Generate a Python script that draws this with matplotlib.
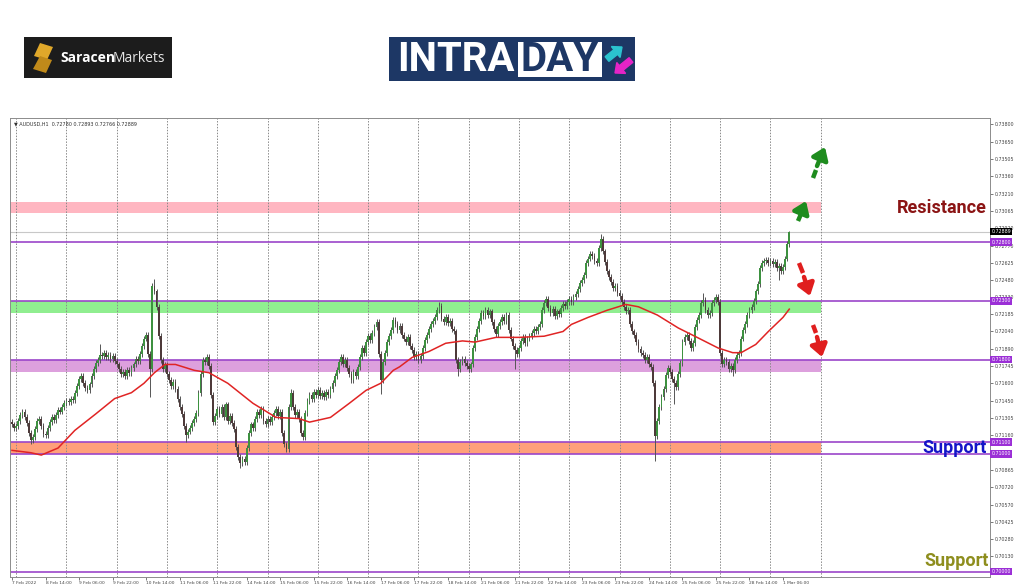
import numpy as np
import pandas as pd
import matplotlib
matplotlib.use("Agg")
import matplotlib.pyplot as plt
import matplotlib.transforms as mtransforms
from matplotlib.patches import Rectangle, Polygon, FancyArrow

# AUDUSD H1, 7 Feb 2022 22:00 -> 1 Mar 2022 09:00 (weekends skipped)
symbol = "AUDUSD,H1"
header_ohlc = [0.72780, 0.72893, 0.72766, 0.72889]
times = pd.date_range("2022-02-07 22:00", "2022-03-01 09:00", freq="h")
times = times[times.dayofweek < 5]

first_open = 0.7127
closes = [
    0.7125, 0.7122,
    # 8 Feb
    0.7124, 0.7128, 0.7133, 0.7136, 0.7131, 0.7126, 0.7118, 0.7112, 0.7114, 0.7121, 0.7128, 0.7130,
    0.7124, 0.7117, 0.7116, 0.7122, 0.7127, 0.7131, 0.7129, 0.7133, 0.7137, 0.7136, 0.7140, 0.7143,
    # 9 Feb
    0.7145, 0.7144, 0.7147, 0.7146, 0.7152, 0.7158, 0.7164, 0.7166, 0.7160, 0.7156, 0.7154, 0.7159,
    0.7166, 0.7172, 0.7177, 0.7180, 0.7184, 0.7183, 0.7186, 0.7182, 0.7184, 0.7181, 0.7183, 0.7179,
    # 10 Feb
    0.7176, 0.7172, 0.7168, 0.7170, 0.7166, 0.7171, 0.7169, 0.7173, 0.7176, 0.7181, 0.7179, 0.7185,
    0.7192, 0.7198, 0.7201, 0.7185, 0.7172, 0.7243, 0.7238, 0.7225, 0.7200, 0.7180, 0.7172, 0.7176,
    # 11 Feb
    0.7168, 0.7163, 0.7158, 0.7161, 0.7155, 0.7147, 0.7140, 0.7134, 0.7124, 0.7116, 0.7119, 0.7122,
    0.7126, 0.7130, 0.7135, 0.7152, 0.7168, 0.7180, 0.7178, 0.7182, 0.7175, 0.7150, 0.7127, 0.7132,
    # 14 Feb
    0.7138, 0.7134, 0.7140, 0.7131, 0.7142, 0.7128, 0.7132, 0.7126, 0.7121, 0.7106, 0.7097, 0.7092,
    0.7096, 0.7093, 0.7105, 0.7118, 0.7125, 0.7122, 0.7130, 0.7136, 0.7133, 0.7138, 0.7128, 0.7125,
    # 15 Feb
    0.7130, 0.7127, 0.7131, 0.7135, 0.7138, 0.7132, 0.7136, 0.7118, 0.7108, 0.7104, 0.7140, 0.7152,
    0.7140, 0.7133, 0.7136, 0.7130, 0.7118, 0.7114, 0.7135, 0.7145, 0.7150, 0.7147, 0.7153, 0.7150,
    # 16 Feb
    0.7154, 0.7149, 0.7152, 0.7148, 0.7153, 0.7150, 0.7155, 0.7160, 0.7166, 0.7171, 0.7178, 0.7182,
    0.7176, 0.7180, 0.7173, 0.7168, 0.7163, 0.7170, 0.7166, 0.7174, 0.7182, 0.7190, 0.7186, 0.7195,
    # 17 Feb
    0.7200, 0.7197, 0.7203, 0.7208, 0.7212, 0.7185, 0.7163, 0.7178, 0.7186, 0.7195, 0.7200, 0.7205,
    0.7214, 0.7210, 0.7205, 0.7209, 0.7201, 0.7198, 0.7195, 0.7199, 0.7192, 0.7188, 0.7182, 0.7185,
    # 18 Feb
    0.7180, 0.7183, 0.7190, 0.7197, 0.7201, 0.7206, 0.7210, 0.7213, 0.7216, 0.7222, 0.7226, 0.7215,
    0.7212, 0.7216, 0.7211, 0.7213, 0.7206, 0.7204, 0.7180, 0.7172, 0.7178, 0.7181, 0.7177, 0.7175,
    # 21 Feb
    0.7172, 0.7176, 0.7190, 0.7199, 0.7206, 0.7213, 0.7220, 0.7217, 0.7222, 0.7218, 0.7221, 0.7212,
    0.7206, 0.7202, 0.7209, 0.7212, 0.7216, 0.7213, 0.7218, 0.7205, 0.7198, 0.7192, 0.7188, 0.7185,
    # 22 Feb
    0.7190, 0.7196, 0.7199, 0.7194, 0.7198, 0.7200, 0.7203, 0.7206, 0.7204, 0.7208, 0.7210, 0.7222,
    0.7228, 0.7232, 0.7224, 0.7220, 0.7223, 0.7217, 0.7221, 0.7219, 0.7224, 0.7227, 0.7226, 0.7229,
    # 23 Feb
    0.7232, 0.7229, 0.7233, 0.7236, 0.7240, 0.7245, 0.7248, 0.7252, 0.7262, 0.7266, 0.7270, 0.7268,
    0.7264, 0.7262, 0.7275, 0.7283, 0.7272, 0.7263, 0.7255, 0.7250, 0.7246, 0.7241, 0.7243, 0.7237,
    # 24 Feb
    0.7234, 0.7229, 0.7225, 0.7221, 0.7222, 0.7210, 0.7204, 0.7201, 0.7195, 0.7189, 0.7186, 0.7184,
    0.7180, 0.7182, 0.7176, 0.7174, 0.7160, 0.7115, 0.7128, 0.7140, 0.7148, 0.7155, 0.7167, 0.7173,
    # 25 Feb
    0.7170, 0.7164, 0.7160, 0.7157, 0.7168, 0.7177, 0.7195, 0.7199, 0.7201, 0.7196, 0.7190, 0.7194,
    0.7208, 0.7214, 0.7218, 0.7228, 0.7231, 0.7222, 0.7218, 0.7220, 0.7228, 0.7231, 0.7233, 0.7229,
    # 28 Feb
    0.7186, 0.7176, 0.7180, 0.7178, 0.7172, 0.7175, 0.7171, 0.7180, 0.7184, 0.7186, 0.7198, 0.7205,
    0.7210, 0.7218, 0.7222, 0.7225, 0.7230, 0.7238, 0.7244, 0.7258, 0.7262, 0.7264, 0.7265, 0.7262,
    # 1 Mar
    0.7264, 0.7261, 0.7263, 0.7258, 0.7260, 0.7255, 0.7259, 0.7266, 0.7278, 0.72889,
]
# long wicks that stand out
spike_high = {42: 0.7193, 68: 0.7249, 133: 0.7155, 204: 0.7229, 281: 0.7287,
              330: 0.7237, 371: 0.72893}
spike_low = {9: 0.7108, 66: 0.7148, 83: 0.7110, 109: 0.7088, 176: 0.7151,
             213: 0.7166, 240: 0.7172, 307: 0.7094, 316: 0.7142, 344: 0.7166,
             366: 0.7248}

# moving average (red)
ma_bar = [0, 9, 14, 22, 30, 40, 49, 57, 63, 68, 73, 78, 87, 94, 103, 115, 126, 137,
          142, 152, 161, 169, 176, 182, 185, 191, 199, 207, 215, 221, 231, 242, 254,
          263, 267, 275, 281, 284, 293, 299, 308, 318, 327, 337, 344, 348, 355, 361,
          368, 371]
ma_val = [0.7103, 0.7101, 0.7099, 0.7105, 0.7120, 0.7134, 0.7147, 0.7152, 0.7160,
          0.7169, 0.7176, 0.7176, 0.7171, 0.7169, 0.7160, 0.7143, 0.7131, 0.7130,
          0.7127, 0.7131, 0.7143, 0.7154, 0.7160, 0.7171, 0.7174, 0.7182, 0.7187,
          0.7194, 0.7196, 0.7195, 0.7199, 0.7199, 0.7200, 0.7204, 0.7210, 0.7216,
          0.7220, 0.7222, 0.7227, 0.7225, 0.7218, 0.7207, 0.7199, 0.7190, 0.7186,
          0.7186, 0.7193, 0.7204, 0.7216, 0.7223]

levels = [0.72800, 0.72300, 0.71800, 0.71100, 0.71000, 0.70000]
zone_low = [0.7305, 0.7220, 0.7170, 0.7100]
zone_high = [0.7314, 0.7230, 0.7180, 0.7110]
bid = 0.72889
# scale labels (the one under the 0.71000 label is hidden in the original)
price_ticks = [0.73800, 0.73650, 0.73505, 0.73360, 0.73210, 0.73065, 0.72920, 0.72770,
               0.72625, 0.72480, 0.72330, 0.72185, 0.72040, 0.71890, 0.71745, 0.71600,
               0.71450, 0.71305, 0.71160, 0.70865, 0.70720, 0.70570, 0.70425,
               0.70280, 0.70130]

fig = plt.figure(figsize=(10.24, 5.87), dpi=100)
ax = fig.add_axes([10 / 1024, 10 / 587, 980 / 1024, 459 / 587])
ax.set_xlim(-0.95, 466.8)
ax.set_ylim(0.69954, 0.73854)

c = np.array(closes)
o = np.r_[first_open, c[:-1]]
hi = np.maximum(o, c) + 0.00025
lo = np.minimum(o, c) - 0.00025
for k, v in spike_high.items():
    hi[k] = v
for k, v in spike_low.items():
    lo[k] = v
x = np.arange(len(c))

# day separators at midnight + one for the next day
midnights = [i for i, t in enumerate(times) if t.hour == 0]
midnights.append(midnights[-1] + 24)
for m in midnights:
    ax.axvline(m, color="#8a8a8a", lw=0.7, ls=(0, (1.5, 1.5)), zorder=1.5)

zone_cols = ["#ffb6c1", "#90ee90", "#dda0dd", "#ffa07a"]
for zl, zh, col in zip(zone_low, zone_high, zone_cols):
    ax.add_patch(Rectangle((-0.95, zl), midnights[-1] + 0.95, zh - zl,
                           facecolor=col, edgecolor="none", zorder=1))

blend = mtransforms.blended_transform_factory(ax.transAxes, ax.transData)
ax.axhline(bid, color="#c8c8c8", lw=0.8, zorder=1.2)
for lv in levels:
    ax.axhline(lv, color="#9b45c9", lw=1.2, zorder=2)
    ax.text(1.0015, lv, f"{lv:.5f}", transform=blend, fontsize=3.4, color="white",
            va="center", ha="left", clip_on=False, zorder=10,
            bbox=dict(boxstyle="square,pad=0.25", fc="#9b2fd6", ec="none"))
ax.text(1.0015, bid, f"{bid:.5f}", transform=blend, fontsize=3.4, color="white",
        va="center", ha="left", clip_on=False, zorder=10,
        bbox=dict(boxstyle="square,pad=0.25", fc="black", ec="none"))

# candles
up = c >= o
body = np.maximum(np.abs(c - o), 0.00005)
ax.vlines(x, lo, hi, color="#555555", lw=0.7, zorder=3)
ax.bar(x[up], body[up], bottom=o[up], width=0.85, color="#3d9140", zorder=4)
ax.bar(x[~up], body[~up], bottom=c[~up], width=0.85, color="#4e3a3a", zorder=4)

ax.plot(ma_bar, ma_val, color="#e02424", lw=1.1, zorder=5)

# axes styling
for s in ax.spines.values():
    s.set_color("#8c8c8c")
    s.set_linewidth(0.7)
ax.yaxis.tick_right()
ax.set_yticks(price_ticks)
ax.set_yticklabels([f"{t:.5f}" for t in price_ticks])
ax.tick_params(axis="y", labelsize=3.4, length=2, pad=1.5, colors="#444444", width=0.5)

xt = [0] + list(range(16, len(times), 16))
xl = [f"{times[0].day} {times[0]:%b %Y}"] + [f"{times[i].day} {times[i]:%b %H:%M}" for i in xt[1:]]
ax.set_xticks(xt)
ax.set_xticklabels(xl, ha="left")
ax.tick_params(axis="x", labelsize=3.2, length=2, pad=0.8, colors="#444444", width=0.5)

ax.text(0.004, 0.993, "\u25bc " + symbol + "  " + " ".join(f"{v:.5f}" for v in header_ohlc),
        transform=ax.transAxes, fontsize=3.5, color="#333333", va="top", ha="left")

# overlay in pixel coordinates for logos, labels and arrows
ov = fig.add_axes([0, 0, 1, 1])
ov.set_xlim(0, 1024)
ov.set_ylim(587, 0)
ov.axis("off")

ov.text(897, 208, "Resistance", fontsize=13, fontweight="bold", family="Roboto",
        color="#8b1414", va="center", ha="left")
ov.text(922, 448, "Support", fontsize=13, fontweight="bold", family="Roboto",
        color="#1414c8", va="center", ha="left")
ov.text(924, 561, "Support", fontsize=13, fontweight="bold", family="Roboto",
        color="#8e8e1e", va="center", ha="left")


def dashed_arrow(dash0, dash1, tail, tip, color):
    ov.plot([dash0[0], dash1[0]], [dash0[1], dash1[1]], color=color, lw=3.2,
            solid_capstyle="butt")
    ov.annotate("", xy=tip, xytext=tail,
                arrowprops=dict(arrowstyle="-|>,head_length=0.7,head_width=0.5",
                                color=color, lw=3.2, shrinkA=0, shrinkB=0))


dashed_arrow((798, 221), (801, 214), (801, 213), (806, 201), "#1e8c1e")
dashed_arrow((813, 178), (816, 170), (817, 166), (825, 147), "#1e8c1e")
dashed_arrow((799, 263), (803, 273), (804, 277), (810, 296), "#e01e1e")
dashed_arrow((813, 325), (816, 333), (817, 337), (822, 357), "#e01e1e")

# Saracen Markets logo
ov.add_patch(Rectangle((24, 37), 148, 41, facecolor="#1c1c1c", edgecolor="none"))
ov.add_patch(Polygon([(40, 43), (53, 47), (47, 60), (34, 56)], closed=True,
                     facecolor="#e0a82a", edgecolor="none"))
ov.add_patch(Polygon([(40, 56), (52, 60), (46, 73), (33, 69)], closed=True,
                     facecolor="#c08a1a", edgecolor="none"))
ov.text(60, 58, "Saracen", fontsize=10, fontweight="bold", family="Open Sans",
        color="white", va="center", ha="left")
ov.text(113, 58, "Markets", fontsize=10, family="Open Sans",
        color="#e6e6e6", va="center", ha="left")

# INTRADAY logo
ov.add_patch(Rectangle((389, 37), 246, 44, facecolor="#1d3765", edgecolor="none"))
ov.add_patch(Rectangle((518, 42), 84, 35, facecolor="white", edgecolor="none"))
ov.text(397, 60, "INTRA", fontsize=29, fontweight="bold", family="Roboto",
        color="white", va="center", ha="left")
ov.text(560, 60, "DAY", fontsize=29, fontweight="bold", family="Roboto",
        color="#1d3765", va="center", ha="center")
ov.add_patch(FancyArrow(607, 59, 15, -12, width=6, head_width=14, head_length=8,
                        length_includes_head=True, color="#2bc3cf"))
ov.add_patch(FancyArrow(631, 60, -16, 13, width=6, head_width=14, head_length=8,
                        length_includes_head=True, color="#e424c6"))

fig.savefig("out.png", dpi=100)
